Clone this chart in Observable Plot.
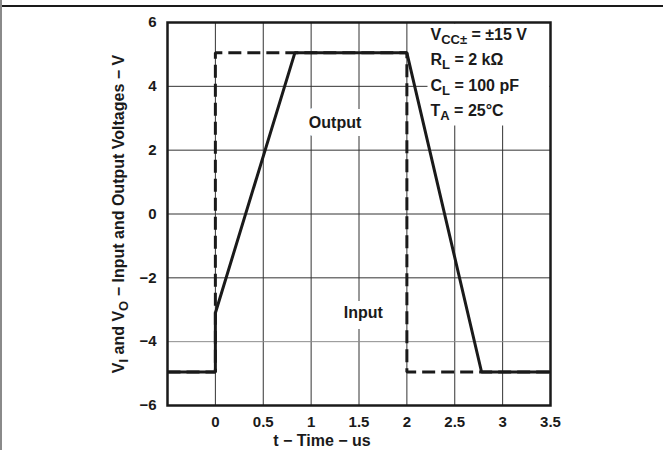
<!DOCTYPE html>
<html>
<head>
<meta charset="utf-8">
<script src="https://cdn.jsdelivr.net/npm/d3@7"></script>
<script src="https://cdn.jsdelivr.net/npm/@observablehq/plot@0.6"></script>
<style>
  html, body { margin: 0; padding: 0; background: #fff; }
  #wrap { position: relative; width: 663px; height: 450px; overflow: hidden; }
  #wrap svg { position: absolute; left: 0; top: 0; }
  .rule-top { position: absolute; left: 0; top: 5px; width: 663px; height: 2px; background: #1a1a1a; }
  .rule-left { position: absolute; left: 0; top: 0; width: 2px; height: 450px; background: #8a8a8a; }
</style>
</head>
<body>
<div id="wrap"></div>
<script>
// ---- data ----
const timeIn  = [-0.5, 0, 0, 2, 2, 3.5];
const voltIn  = [-4.95, -4.95, 5.05, 5.05, -4.95, -4.95];
const timeOut = [-0.5, 0, 0, 0.83, 2, 2.78, 3.5];
const voltOut = [-4.95, -4.95, -3.1, 5.05, 5.05, -4.95, -4.95];
const xTicks = [0, 0.5, 1, 1.5, 2, 2.5, 3, 3.5];
const yTicks = [-6, -4, -2, 0, 2, 4, 6];
const xGrid = [0, 0.5, 1, 1.5, 2, 2.5, 3];
const yGrid = [-4, -2, 0, 2, 4];
const seriesLabels = ["Output", "Input"];
const annotation = [
  {main: "V", sub: "CC±", rest: " = ±15 V"},
  {main: "R", sub: "L", rest: " = 2 kΩ"},
  {main: "C", sub: "L", rest: " = 100 pF"},
  {main: "T", sub: "A", rest: " = 25°C"}
];
const xTitle = "t − Time − us";
const yTitleParts = [["V", false], ["I", true], [" and V", false], ["O", true], [" − Input and Output Voltages − V", false]];

(function () {
const inputData = timeIn.map((t, i) => ({t, v: voltIn[i]}));
const outputData = timeOut.map((t, i) => ({t, v: voltOut[i]}));
const yTitle = yTitleParts.map(p => p[0]).join("");
const annotText = annotation.map(a => a.main + a.sub + a.rest).join("\n");

const FONT = "'Liberation Sans', Arial, Helvetica, sans-serif";

const svg = Plot.plot({
  width: 663,
  height: 450,
  marginLeft: 167,
  marginRight: 113,
  marginTop: 22,
  marginBottom: 45,
  style: {fontFamily: FONT, fontSize: "15px", fontWeight: "bold", color: "#1a1a1a", background: "transparent"},
  x: {domain: [-0.5, 3.5], ticks: xTicks, tickSize: 0, tickPadding: 11, label: null, tickFormat: d => String(d)},
  y: {domain: [-6, 6], ticks: yTicks, tickSize: 0, tickPadding: 11, label: null},
  marks: [
    Plot.ruleX(xGrid, {stroke: "#333", strokeWidth: 1}),
    Plot.ruleY(yGrid, {stroke: d => d === -4 ? "#8c8c8c" : "#333", strokeWidth: 1}),
    // white box behind the conditions block
    Plot.frame({fill: "white", stroke: "none", insetLeft: 260, insetBottom: 280, insetTop: 1, insetRight: 1}),
    Plot.text(seriesLabels, {
      x: [1.25, 1.545], y: [2.85, -3.1], text: d => d,
      fontSize: 16, fontWeight: "bold", fill: "#1a1a1a",
      stroke: "white", strokeWidth: 16
    }),
    Plot.text([annotText], {
      frameAnchor: "top-left", dx: 263, dy: -0.6,
      textAnchor: "start", lineAnchor: "top", lineHeight: 1.59,
      fontSize: 16, fontWeight: "bold", fill: "#1a1a1a"
    }),
    Plot.line(inputData, {
      x: "t", y: "v", stroke: "#1a1a1a", strokeWidth: 3,
      strokeDasharray: "13,6", strokeLinejoin: "miter", strokeLinecap: "butt"
    }),
    Plot.line(outputData, {
      x: "t", y: "v", stroke: "#1a1a1a", strokeWidth: 3,
      strokeLinejoin: "miter", strokeLinecap: "butt"
    }),
    Plot.frame({stroke: "#1a1a1a", strokeWidth: 2.5}),
    Plot.text([xTitle], {frameAnchor: "bottom", dy: 40, dx: -37, fontSize: 16, fontWeight: "bold", fill: "#1a1a1a"}),
    Plot.text([yTitle], {frameAnchor: "left", textAnchor: "middle", dx: -49, rotate: -90, fontSize: 16, fontWeight: "bold", fill: "#1a1a1a"})
  ]
});

// ---- turn the subscript parts into real tspans ----
const partsByText = new Map();
annotation.forEach(a => partsByText.set(a.main + a.sub + a.rest, [[a.main, false], [a.sub, true], [a.rest, false]]));
partsByText.set(yTitle, yTitleParts);
const NS = "http://www.w3.org/2000/svg";
const targets = [...svg.querySelectorAll("text, tspan")]
  .filter(el => el.children.length === 0 && partsByText.has(el.textContent));
for (const el of targets) {
  const parts = partsByText.get(el.textContent);
  el.textContent = "";
  let shifted = false;
  for (const [s, isSub] of parts) {
    const t = document.createElementNS(NS, "tspan");
    t.textContent = s;
    if (isSub) {
      t.setAttribute("font-size", "13");
      if (!shifted) { t.setAttribute("dy", "4"); shifted = true; }
    } else if (shifted) {
      t.setAttribute("dy", "-4"); shifted = false;
    }
    el.appendChild(t);
  }
}

const wrap = document.getElementById("wrap");
wrap.appendChild(svg);
const topRule = document.createElement("div"); topRule.className = "rule-top"; wrap.appendChild(topRule);
const leftRule = document.createElement("div"); leftRule.className = "rule-left"; wrap.appendChild(leftRule);
})();
</script>
</body>
</html>
